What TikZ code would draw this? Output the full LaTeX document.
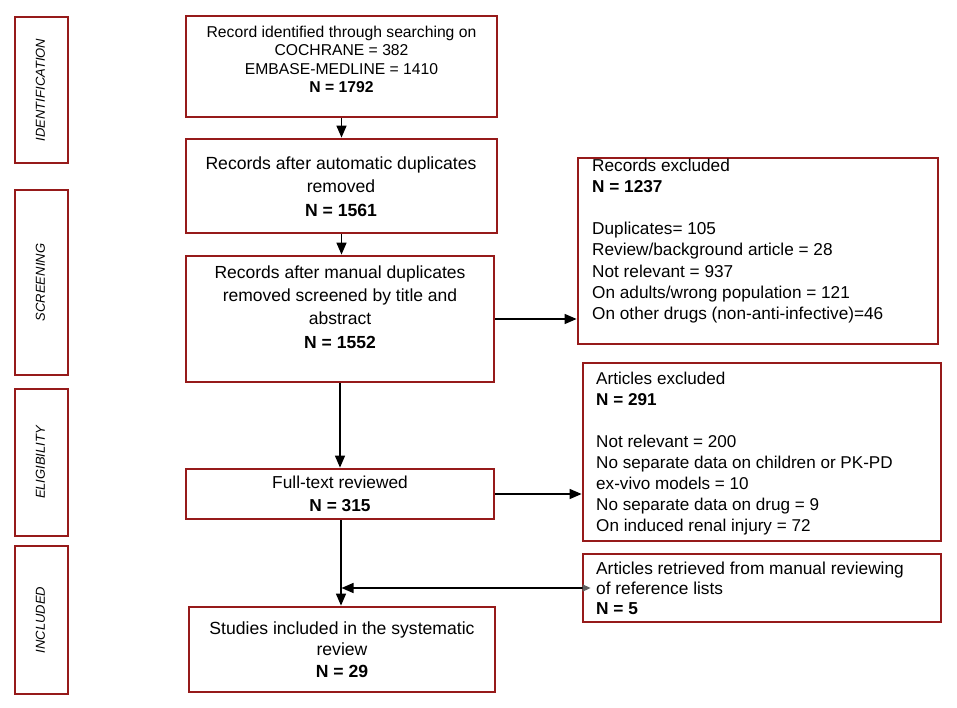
\documentclass[tikz,border=0pt]{standalone}
\usepackage{fontspec}
\setmainfont{Liberation Sans}
\usetikzlibrary{arrows.meta,fit}
\definecolor{boxred}{RGB}{150,26,26}
\begin{document}
\begin{tikzpicture}[x=1pt,y=-1pt,
  box/.style={draw=boxred, line width=2.8pt, rectangle, inner sep=0pt},
  pbox/.style={draw=boxred, line width=2.6pt, rectangle, inner sep=0pt},
  conn/.style={line width=1.4pt, -{Triangle[length=12pt,width=10pt]}},
  phase/.style={rotate=90, inner sep=0pt, font=\fontsize{13}{15}\selectfont\itshape},
  ctext/.style={align=center, inner sep=0pt},
  ltext/.style={align=left, inner sep=0pt, anchor=west},
]
\useasboundingbox (0,0) rectangle (957,708);
% phase boxes
\node[pbox, fit={(15,17) (68,163)}] (p1) {};
\node[pbox, fit={(15,190) (68,375)}] (p2) {};
\node[pbox, fit={(15,389) (68,536)}] (p3) {};
\node[pbox, fit={(15,546) (68,694)}] (p4) {};
\node[phase] (p1t) at ([xshift=-1pt]p1.center) {IDENTIFICATION};
\node[phase] (p2t) at ([xshift=-1pt]p2.center) {SCREENING};
\node[phase] (p3t) at ([xshift=-1pt]p3.center) {ELIGIBILITY};
\node[phase] (p4t) at ([xshift=-1pt]p4.center) {INCLUDED};
% main boxes
\node[box, fit={(186,16) (497,117)}] (b1) {};
\node[box, fit={(186,139) (497,233)}] (b2) {};
\node[box, fit={(186,256) (494,382)}] (b3) {};
\node[box, fit={(186,469) (494,519)}] (b4) {};
\node[box, fit={(189,607) (495,692)}] (b5) {};
% right boxes
\node[box, fit={(578,158) (938,344)}] (r1) {};
\node[box, fit={(583,363) (941,541)}] (r2) {};
\node[box, fit={(583,554) (941,622)}] (r3) {};
% texts
\node[ctext, font=\fontsize{15.7}{18.3}\selectfont] (t1) at (341.5,59.5)
  {Record identified through searching on\\COCHRANE = 382\\EMBASE-MEDLINE = 1410\\\textbf{N = 1792}};
\node[ctext, font=\fontsize{17.6}{23.5}\selectfont] (t2) at (341,186.5)
  {Records after automatic duplicates\\removed\\\textbf{N = 1561}};
\node[ctext, font=\fontsize{17.5}{23.4}\selectfont] (t3) at (340,307)
  {Records after manual duplicates\\removed screened by title and\\abstract\\\textbf{N = 1552}};
\node[ctext, font=\fontsize{17.3}{23}\selectfont] (t4) at (340,493.5)
  {Full-text reviewed\\\textbf{N = 315}};
\node[ctext, font=\fontsize{17.6}{21.5}\selectfont] (t5) at (342,649.5)
  {Studies included in the systematic\\review\\\textbf{N = 29}};
\node[ltext, font=\fontsize{17.2}{21.1}\selectfont] (t6) at (592,241)
  {Records excluded\\\textbf{N = 1237}\\[21.1pt]Duplicates= 105\\Review/background article = 28\\Not relevant = 937\\On adults/wrong population = 121\\On other drugs (non-anti-infective)=46};
\node[ltext, font=\fontsize{17.1}{21}\selectfont] (t7) at (596,453.5)
  {Articles excluded\\\textbf{N = 291}\\[21pt]Not relevant = 200\\No separate data on children or PK-PD\\ex-vivo models = 10\\No separate data on drug = 9\\On induced renal injury = 72};
\node[ltext, font=\fontsize{17.3}{20}\selectfont] (t8) at (596,588)
  {Articles retrieved from manual reviewing\\of reference lists\\\textbf{N = 5}};
% connectors
\draw[conn] (b1.south) -- (b1.south |- b2.north);
\draw[conn] (b2.south) -- (b2.south |- b3.north);
\draw[conn] (b3.south) -- (b3.south |- b4.north);
\draw[conn] (b3.east) -- (b3.east -| r1.west);
\draw[conn] (b4.east) -- (b4.east -| r2.west);
\draw[conn] ([xshift=1pt]b4.south) -- ([xshift=1pt]b4.south |- b5.north);
\coordinate (j) at ([xshift=1.5pt]b4.south |- r3.west);
\draw[line width=1.4pt, shorten <=-9pt, {Triangle[color=gray!75!black,length=8pt,width=7pt]}-{Triangle[length=12pt,width=10pt]}] (r3.west) -- (j);
\end{tikzpicture}
\end{document}
